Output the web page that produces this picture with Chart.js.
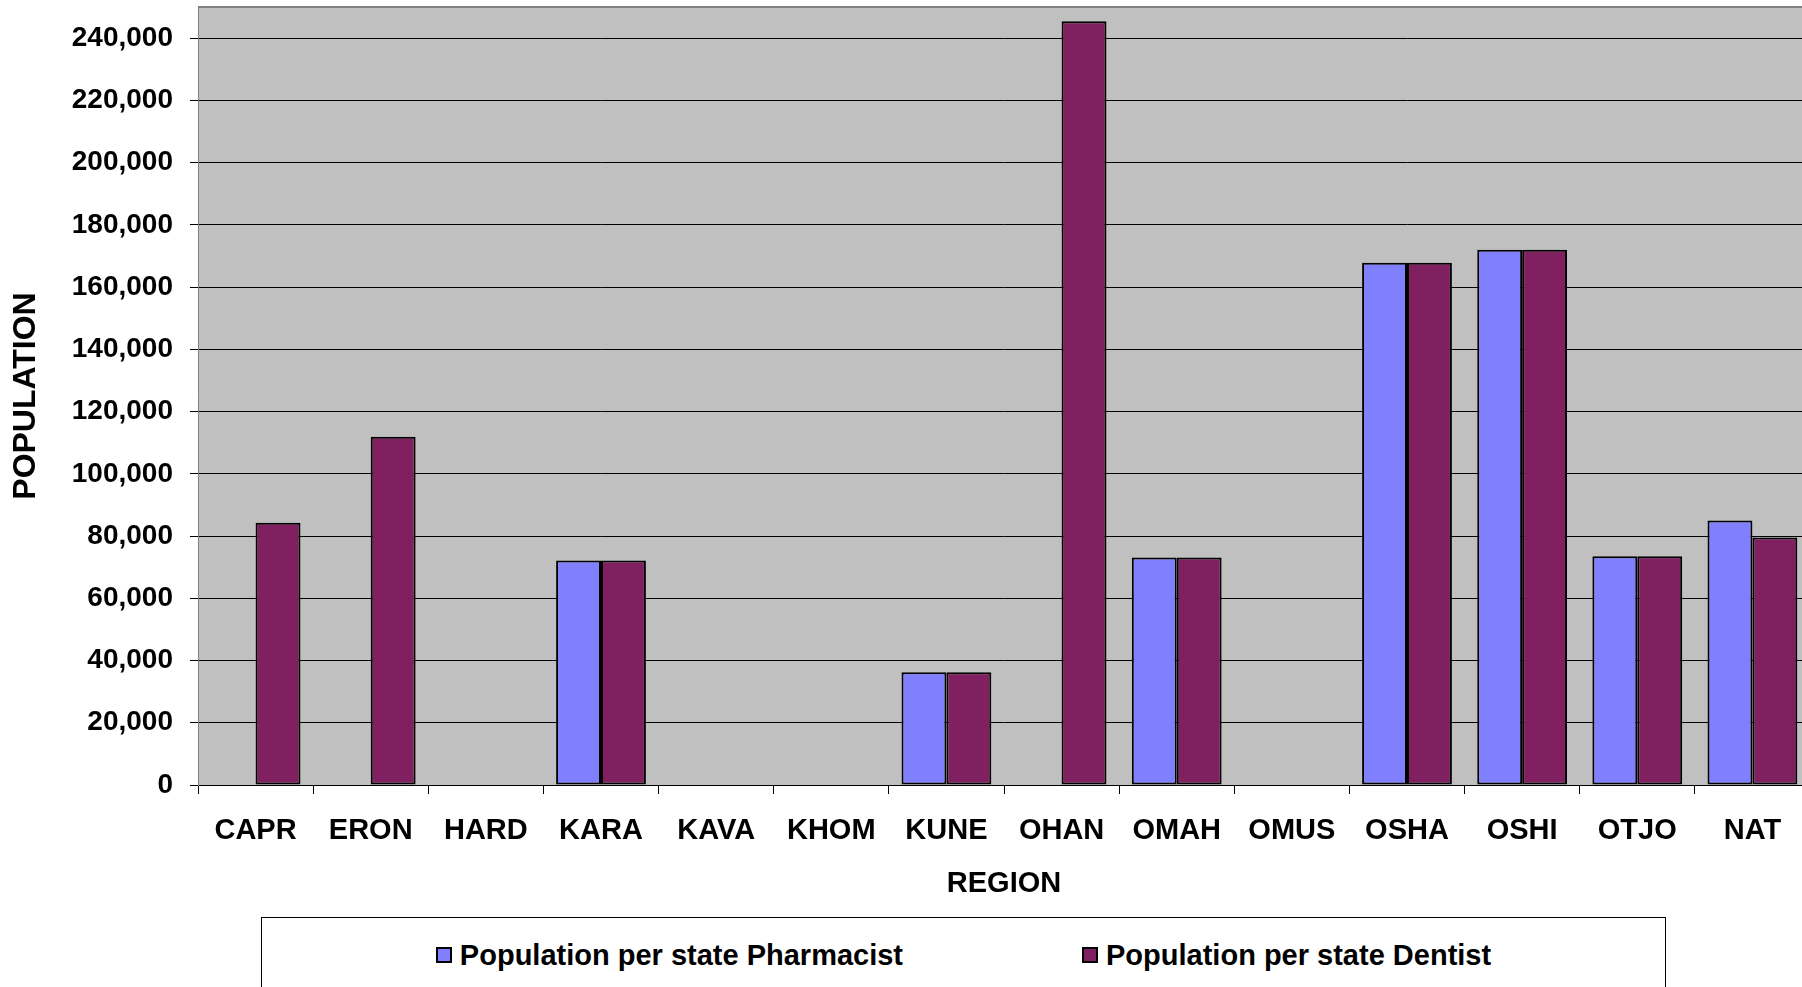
<!DOCTYPE html>
<html>
<head>
<meta charset="utf-8">
<script src="https://cdn.jsdelivr.net/npm/chart.js@4/dist/chart.umd.min.js"></script>
<style>
  html, body { margin:0; padding:0; background:#fff; overflow:hidden; }
  #wrap { position:relative; width:1802px; height:987px; overflow:hidden; }
  #chart { display:block; }
  #legend { position:absolute; left:261px; top:917px; width:1405px; height:110px; box-sizing:border-box;
    border:1px solid #000; background:#fff; display:flex; justify-content:center; align-items:flex-start;
    padding-top:20px; gap:179px; font:bold 29px "Liberation Sans", Arial, sans-serif; color:#000; }
  .item { display:flex; align-items:center; line-height:34px; white-space:nowrap; }
  .swatch { width:16px; height:16px; box-sizing:border-box; border:2px solid #000; margin-right:8px; }
</style>
</head>
<body>
<div id="wrap">
  <canvas id="chart" width="1810" height="987"></canvas>
  <div id="legend"></div>
</div>
<script>
const $ = (id) => document.getElementById(id);
const FONT = '"Liberation Sans", Arial, sans-serif';

const regions = ['CAPR','ERON','HARD','KARA','KAVA','KHOM','KUNE','OHAN','OMAH','OMUS','OSHA','OSHI','OTJO','NAT'];
const pharmacist = [null, null, null, 72150, null, null, 36200, null, 73100, null, 167800, 172000, 73500, 85000];
const dentist = [84300, 111900, null, 72150, null, null, 36200, 245400, 73100, null, 167800, 172000, 73500, 79500];
const seriesNames = ['Population per state Pharmacist','Population per state Dentist'];
const seriesColors = ['#8080FF','#802060'];
const yTicks = [0, 20000, 40000, 60000, 80000, 100000, 120000, 140000, 160000, 180000, 200000, 220000, 240000];
const yMax = 250000;

const plotBg = {
  id:'plotBg',
  beforeDraw(c){
    const {ctx, chartArea:a} = c;
    ctx.save(); ctx.fillStyle = '#C0C0C0'; ctx.fillRect(a.left, a.top, a.right-a.left, a.bottom-a.top); ctx.restore();
  },
  afterDraw(c){
    const {ctx, chartArea:a} = c;
    ctx.save(); ctx.strokeStyle = '#808080'; ctx.lineWidth = 2;
    ctx.beginPath(); ctx.moveTo(a.left, a.top); ctx.lineTo(a.right, a.top); ctx.stroke(); ctx.restore();
  }
};

function makeDataset(i, data){
  return { label:seriesNames[i], data, backgroundColor:seriesColors[i], borderColor:'#000', borderWidth:2,
    borderSkipped:false, categoryPercentage:0.78, barPercentage:1 };
}

const chart = new Chart($('chart'), {
  type:'bar',
  data:{ labels:regions, datasets:[ makeDataset(0, pharmacist), makeDataset(1, dentist) ] },
  options:{
    responsive:false, animation:false, devicePixelRatio:1,
    layout:{ padding:{ left:0, top:7, right:0, bottom:86 } },
    plugins:{ legend:{ display:false }, tooltip:{ enabled:false } },
    scales:{
      x:{
        grid:{ offset:true, drawOnChartArea:false, drawTicks:true, tickLength:9, color:'#000' },
        border:{ color:'#000', width:1 },
        ticks:{ font:{ family:FONT, size:29, weight:'bold' }, color:'#000', padding:20, maxRotation:0, autoSkip:false },
        title:{ display:true, text:'REGION', color:'#000', font:{ family:FONT, size:29, weight:'bold' }, padding:{ top:18, bottom:0 } },
        afterFit(s){ s.paddingLeft = 0; s.paddingRight = 0; s.height = 116; }
      },
      y:{
        min:0, max:yMax,
        grid:{ color:'#000', lineWidth:1, tickLength:8 },
        border:{ color:'#808080', width:1 },
        ticks:{ font:{ family:FONT, size:28, weight:'bold' }, color:'#000', padding:17,
          callback:(v)=>Number(v).toLocaleString('en-US') },
        title:{ display:true, text:'POPULATION', color:'#000', font:{ family:FONT, size:32, weight:'bold' }, padding:{ top:7, bottom:26 } },
        afterBuildTicks(s){ s.ticks = yTicks.map(v=>({ value:v })); },
        afterFit(s){ s.paddingTop = 0; s.paddingBottom = 0; s.width = 198; }
      }
    }
  },
  plugins:[plotBg]
});

// legend built from the chart's datasets
$('legend').innerHTML = chart.data.datasets.map(d=>
  `<div class="item"><span class="swatch" style="background:${d.backgroundColor}"></span><span>${d.label}</span></div>`).join('');
</script>
</body>
</html>
